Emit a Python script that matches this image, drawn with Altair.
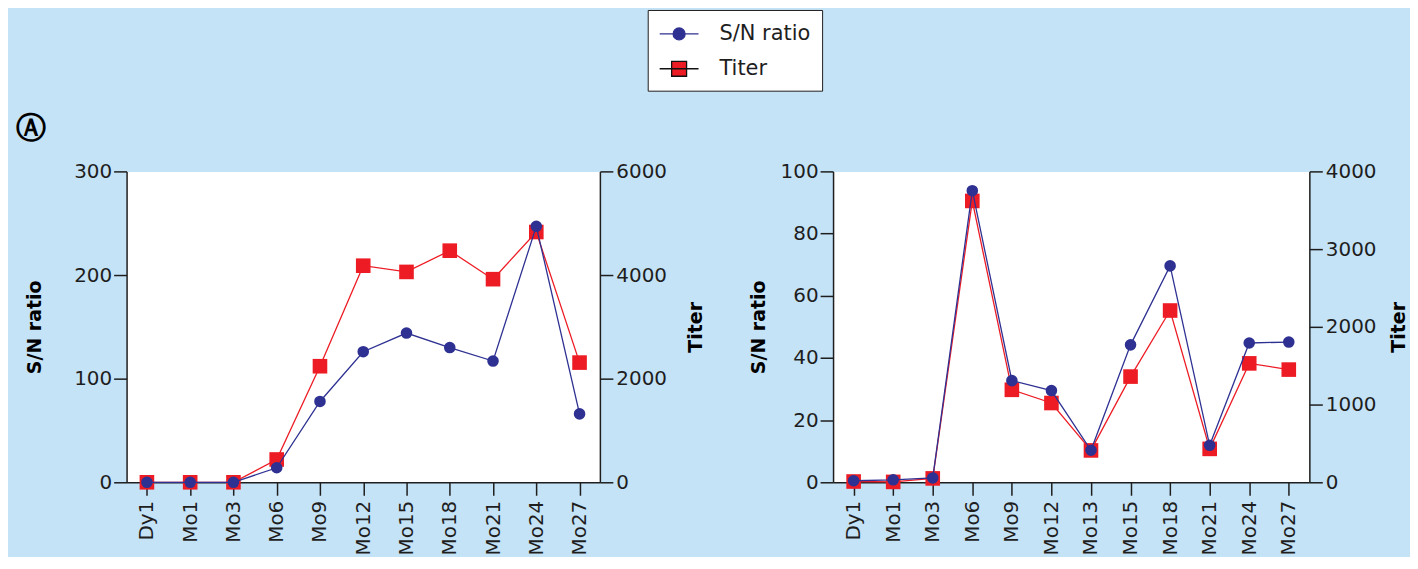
import altair as alt
import pandas as pd

# ---------------- data ----------------
left_cats = ["Dy1", "Mo1", "Mo3", "Mo6", "Mo9", "Mo12", "Mo15", "Mo18", "Mo21", "Mo24", "Mo27"]
left_sn = [0, 0, 0, 14, 78, 126, 144, 130, 117, 247, 66]
left_titer = [0, 0, 0, 440, 2240, 4180, 4060, 4470, 3920, 4830, 2310]

right_cats = ["Dy1", "Mo1", "Mo3", "Mo6", "Mo9", "Mo12", "Mo13", "Mo15", "Mo18", "Mo21", "Mo24", "Mo27"]
right_sn = [0.5, 0.8, 1.4, 93.8, 32.7, 29.5, 10.3, 44.2, 69.6, 11.9, 44.8, 45.1]
right_titer = [10, 5, 50, 3620, 1190, 1020, 410, 1360, 2210, 430, 1530, 1450]

left_sn_ticks = [0, 100, 200, 300]
left_titer_ticks = [0, 2000, 4000, 6000]
right_sn_ticks = [0, 20, 40, 60, 80, 100]
right_titer_ticks = [0, 1000, 2000, 3000, 4000]

legend_labels = ["S/N ratio", "Titer"]

# ---------------- style ----------------
BLUE = "#2E3192"
RED = "#ED1C24"
BG = "#C5E3F6"
INK = "#1e1e1e"
FONT = "DejaVu Sans"

# legend symbol paths: a line with a marker on it
SN_PATH = "M-1,0L2.25,0M1.125,0A0.5,0.5,0,1,1,0.125,0A0.5,0.5,0,1,1,1.125,0Z"
TITER_PATH = "M-1,0L2.25,0M0,-0.625L1.25,-0.625L1.25,0.625L0,0.625Z"


def axis_common(**kw):
    base = dict(grid=False, domainColor=INK, domainWidth=1.5, tickColor=INK, tickWidth=1.5,
                tickSize=13, labelFont=FONT, labelFontSize=20, labelColor=INK,
                titleFont=FONT, titleFontSize=19, titleFontWeight="bold", titleColor="black")
    base.update(kw)
    return alt.Axis(**base)


def panel(cats, sn, titer, sn_max, sn_ticks, titer_max, titer_ticks, pad,
          width, sn_title_pad, titer_title_pad, with_legend=False, title=None):
    df = pd.DataFrame({"time": cats, "sn": sn, "titer": titer})
    x = alt.X("time:N", sort=cats, title=None,
              scale=alt.Scale(type="point", padding=pad),
              axis=axis_common(labelAngle=270, labelPadding=5))
    base = alt.Chart(df).encode(x=x)
    titer_layer = base.mark_line(
        color=RED, strokeWidth=1.3,
        point=alt.OverlayMarkDef(shape="square", filled=True, color=RED, size=215, opacity=1),
    ).encode(
        y=alt.Y("titer:Q", title="Titer",
                scale=alt.Scale(domain=[0, titer_max], nice=False, zero=True),
                axis=axis_common(orient="right", values=titer_ticks, format="d", labelPadding=3,
                                 titleAngle=270, titleBaseline="top",
                                 titlePadding=titer_title_pad))
    )
    sn_layer = base.mark_line(
        color=BLUE, strokeWidth=1.3,
        point=alt.OverlayMarkDef(shape="circle", filled=True, color=BLUE, size=135, opacity=1),
    ).encode(
        y=alt.Y("sn:Q", title="S/N ratio",
                scale=alt.Scale(domain=[0, sn_max], nice=False, zero=True),
                axis=axis_common(orient="left", values=sn_ticks, format="d", labelPadding=2,
                                 titlePadding=sn_title_pad))
    )
    layers = [titer_layer, sn_layer]
    if with_legend:
        ldf = pd.DataFrame({"series": legend_labels})
        leg = alt.Chart(ldf).transform_filter("false").mark_point(filled=True, opacity=1).encode(
            shape=alt.Shape("series:N", scale=alt.Scale(domain=legend_labels, range=[SN_PATH, TITER_PATH]),
                            legend=alt.Legend(title=None, orient="none", legendX=523, legendY=-162)),
            fill=alt.Fill("series:N", scale=alt.Scale(domain=legend_labels, range=[BLUE, RED])),
            stroke=alt.Stroke("series:N", scale=alt.Scale(domain=legend_labels, range=[BLUE, "#111111"])),
        )
        layers.append(leg)
    ch = alt.layer(*layers).resolve_scale(y="independent")
    props = dict(width=width, height=312,
                 view=alt.ViewBackground(fill="white", stroke="transparent"))
    if title is not None:
        props["title"] = title
    return ch.properties(**props)


left = panel(left_cats, left_sn, left_titer, 300, left_sn_ticks, 6000, left_titer_ticks,
             0.47, 475, 29, 20, with_legend=True,
             title=alt.TitleParams("Ⓐ", anchor="start", frame="group", dx=-111, dy=-3,
                                   offset=0, baseline="middle", font=FONT, fontSize=30,
                                   fontWeight="bold", color="black"))
right = panel(right_cats, right_sn, right_titer, 100, right_sn_ticks, 4000, right_titer_ticks,
              0.52, 478, 12, 14)

chart = alt.hconcat(left, right, spacing=234, bounds="flush").properties(
    padding={"left": 7, "top": 0, "right": 0, "bottom": 0}
).configure(
    background=BG, font=FONT
).configure_view(
    fill="white", stroke="transparent"
).configure_legend(
    padding=11, strokeColor=INK, fillColor="white", symbolSize=576, symbolStrokeWidth=1.3,
    symbolOpacity=1, labelFont=FONT, labelFontSize=21, labelColor=INK, labelOffset=35,
    rowPadding=12
)

chart.save("out.html", embed_options={"renderer": "svg", "actions": False})
